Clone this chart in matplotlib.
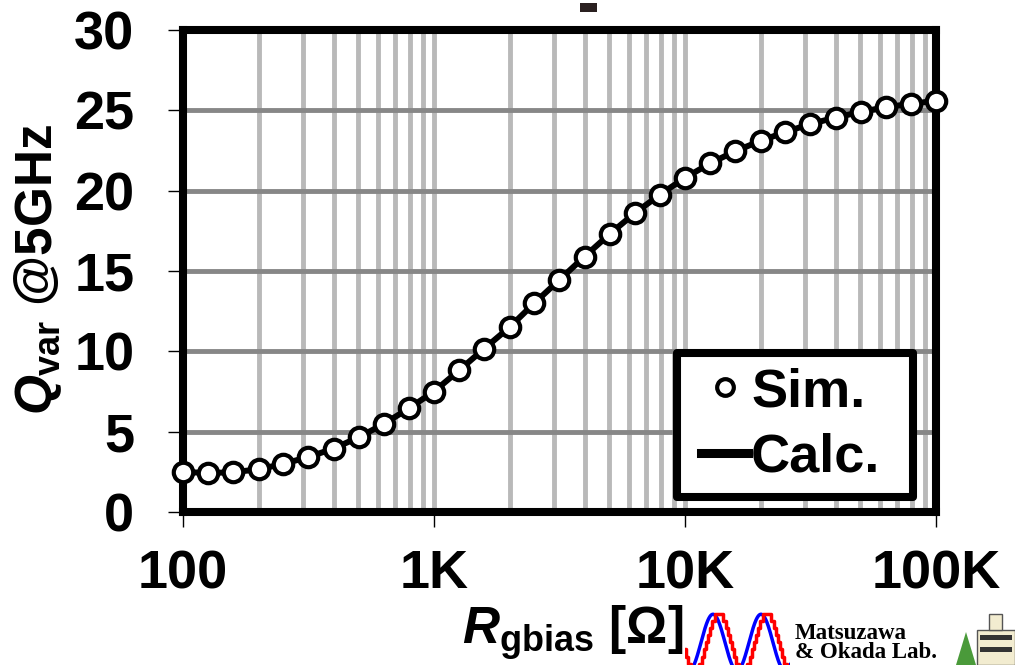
import numpy as np
import matplotlib
matplotlib.use('Agg')
import matplotlib.pyplot as plt
from matplotlib.lines import Line2D
from matplotlib.patches import Rectangle, Polygon
from matplotlib.ticker import LogLocator, NullFormatter

# values (10 points per decade)
r_gbias = [100, 126, 158, 200, 251, 316, 398, 501, 631, 794,
           1000, 1260, 1580, 2000, 2510, 3160, 3980, 5010, 6310, 7940,
           10000, 12600, 15800, 20000, 25100, 31600, 39800, 50100, 63100, 79400,
           100000]
q_sim = [2.5, 2.42, 2.48, 2.65, 3.0, 3.42, 3.95, 4.65, 5.48, 6.45,
         7.5, 8.82, 10.15, 11.5, 13.0, 14.45, 15.9, 17.3, 18.6, 19.75,
         20.8, 21.7, 22.45, 23.1, 23.65, 24.15, 24.55, 24.9, 25.2, 25.4,
         25.6]
q_calc = list(q_sim)

x_ticks = [100, 1000, 10000, 100000]
x_labels = ['100', '1K', '10K', '100K']
y_ticks = [0, 5, 10, 15, 20, 25, 30]

plt.rcParams['font.family'] = ['Liberation Sans', 'DejaVu Sans']
plt.rcParams['font.weight'] = 'bold'
plt.rcParams['mathtext.fontset'] = 'custom'
plt.rcParams['mathtext.it'] = 'Liberation Sans:italic:bold'
plt.rcParams['mathtext.bf'] = 'Liberation Sans:bold'
plt.rcParams['mathtext.rm'] = 'Liberation Sans:bold'

W, H = 1015, 665
fig = plt.figure(figsize=(W / 100, H / 100), dpi=100)
ax = fig.add_axes([183 / W, 1 - 512 / H, (936 - 183) / W, (512 - 30) / H])

ax.plot(r_gbias, q_calc, color='black', lw=4.3, zorder=3)
ax.plot(r_gbias, q_sim, 'o', ms=14, mfc='white', mec='black', mew=3,
        zorder=4, clip_on=False)

ax.set_xscale('log')
ax.set_xlim(100, 100000)
ax.set_ylim(0, 30)
ax.set_xticks(x_ticks)
ax.set_xticklabels(x_labels)
ax.xaxis.set_minor_locator(LogLocator(base=10, subs=np.arange(2, 10)))
ax.xaxis.set_minor_formatter(NullFormatter())
ax.set_yticks(y_ticks)
ax.tick_params(axis='both', which='major', length=11, width=1,
               labelsize=39, direction='out')
ax.tick_params(axis='x', which='major', pad=16)
ax.tick_params(axis='y', which='major', pad=24)
ax.tick_params(axis='x', which='minor', length=0)

ax.set_axisbelow(True)
ax.grid(True, axis='x', which='both', color='#b9b9b9', lw=3.5)
ax.grid(True, axis='y', which='major', color='#878787', lw=3.5)
for s in ax.spines.values():
    s.set_linewidth(5.8)

# legend: own frame box, legend entries drawn without frame on top
ax.add_patch(Rectangle((0.656, 0.031), 0.3134, 0.2988, transform=ax.transAxes,
                       facecolor='white', edgecolor='black', lw=5.8,
                       zorder=5, joinstyle='round'))
h_sim = Line2D([], [], ls='none', marker='o', ms=12, mfc='white',
               mec='black', mew=3)
h_calc = Line2D([], [], color='black', lw=6.5)
leg = ax.legend([h_sim, h_calc], ['Sim.', 'Calc.'], loc='center',
                bbox_to_anchor=(0.8074, 0.1805), borderaxespad=0, fontsize=39,
                frameon=False, handlelength=0.87, handletextpad=0.05,
                labelspacing=0.29, borderpad=0)
leg.set_zorder(6)

# axis labels
fig.text(38 / W, 1 - 269 / H, r'$\mathit{Q}_{\mathbf{var}}$ @5GHz',
         fontsize=37, rotation=90, ha='center', va='center')
fig.text(573 / W, 1 - 633 / H, r'$\mathit{R}_{\mathbf{gbias}}$ [Ω]',
         fontsize=37, ha='center', va='center')

# lab logo (decoration)
lax = fig.add_axes([685 / W, 0, 105 / W, 53 / H])
lax.set_axis_off()
xs = np.linspace(685, 790, 400)
lax.plot(xs, np.sin(2 * np.pi * (xs - 701) / 48), color='blue', lw=2.5)
lax.plot(xs, np.round(np.sin(2 * np.pi * (xs - 707) / 48) * 4) / 4,
         color='red', lw=2.5, drawstyle='steps-mid')
lax.set_xlim(685, 790)
lax.set_ylim(-0.8, 1.08)
fig.text(795 / W, 1 - 623 / H, 'Matsuzawa\n& Okada Lab.',
         family='Liberation Serif', weight='bold', fontsize=16.5,
         va='top', linespacing=0.88)
fig.patches.append(Polygon([[956 / W, 0], [976 / W, 0], [966 / W, 1 - 632 / H]],
                           closed=True, transform=fig.transFigure,
                           facecolor='#4a9a3a', edgecolor='none'))
fig.patches.append(Rectangle((977 / W, 0), 38 / W, (665 - 630) / H,
                             transform=fig.transFigure,
                             facecolor='#f2ecd0', edgecolor='#555555', lw=1))
fig.patches.append(Rectangle((989 / W, 1 - 630 / H), 13 / W, 16 / H,
                             transform=fig.transFigure,
                             facecolor='#f2ecd0', edgecolor='#555555', lw=1))
for wy in (640, 652):
    fig.patches.append(Rectangle((980 / W, 1 - wy / H), 32 / W, 5 / H,
                                 transform=fig.transFigure,
                                 facecolor='#333333', edgecolor='none'))
fig.patches.append(Rectangle((580 / W, 1 - 12 / H), 17 / W, 9 / H,
                             transform=fig.transFigure,
                             facecolor='#2a2020', edgecolor='none'))

fig.savefig('out.png', dpi=100)
